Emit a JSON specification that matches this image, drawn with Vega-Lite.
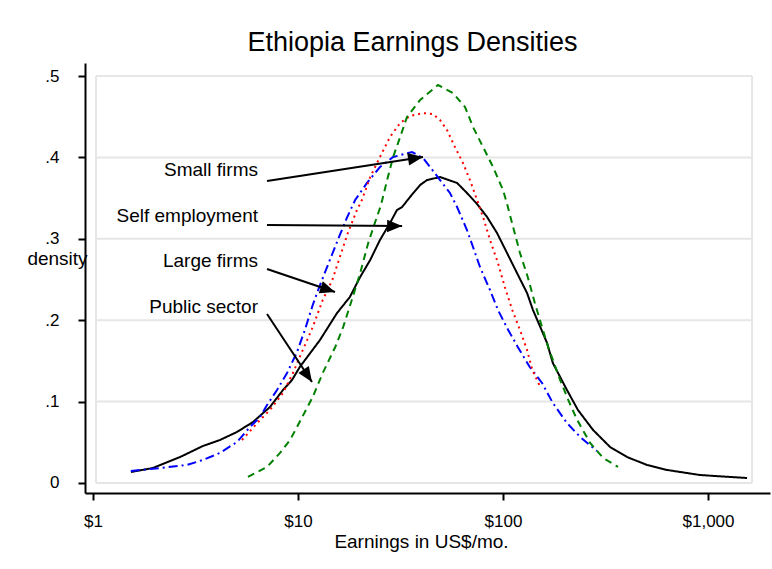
{
  "$schema": "https://vega.github.io/schema/vega-lite/v6.json",
  "autosize": "none",
  "width": 685,
  "height": 430,
  "padding": {"left": 85, "top": 63, "right": 2, "bottom": 76},
  "background": "white",
  "config": {"view": {"stroke": null}},
  "title": {"text": "Ethiopia Earnings Densities", "font": "Liberation Sans", "fontSize": 27, "fontWeight": "normal", "color": "black", "anchor": "middle", "baseline": "alphabetic", "offset": 11, "dx": -15, "dy": 26},
  "datasets": {
    "ticks": [{"t": 0}, {"t": 0.1}, {"t": 0.2}, {"t": 0.3}, {"t": 0.4}, {"t": 0.5}],
    "arrows": [
      {"name": "Small firms", "text_x": 6.38, "text_y": 0.3771, "from_x": 7.06, "from_y": 0.371, "to_x": 40.7, "to_y": 0.4005},
      {"name": "Self employment", "text_x": 6.38, "text_y": 0.3206, "from_x": 7.06, "from_y": 0.317, "to_x": 32.2, "to_y": 0.3157},
      {"name": "Large firms", "text_x": 6.38, "text_y": 0.2654, "from_x": 7.06, "from_y": 0.2629, "to_x": 15.15, "to_y": 0.2346},
      {"name": "Public sector", "text_x": 6.38, "text_y": 0.2088, "from_x": 7.06, "from_y": 0.2076, "to_x": 11.7, "to_y": 0.1241}
    ],
    "curves": [
      {"series": "Self employment", "earnings": 1.53, "density": 0.0135},
      {"series": "Self employment", "earnings": 1.96, "density": 0.0184},
      {"series": "Self employment", "earnings": 2.66, "density": 0.0319},
      {"series": "Self employment", "earnings": 3.44, "density": 0.0455},
      {"series": "Self employment", "earnings": 4.16, "density": 0.0528},
      {"series": "Self employment", "earnings": 5.04, "density": 0.0627},
      {"series": "Self employment", "earnings": 6.03, "density": 0.0749},
      {"series": "Self employment", "earnings": 7.3, "density": 0.0934},
      {"series": "Self employment", "earnings": 8.45, "density": 0.1143},
      {"series": "Self employment", "earnings": 9.35, "density": 0.1265},
      {"series": "Self employment", "earnings": 10.2, "density": 0.1425},
      {"series": "Self employment", "earnings": 12.8, "density": 0.1757},
      {"series": "Self employment", "earnings": 15.5, "density": 0.2088},
      {"series": "Self employment", "earnings": 17.9, "density": 0.2285},
      {"series": "Self employment", "earnings": 20.1, "density": 0.2531},
      {"series": "Self employment", "earnings": 22.5, "density": 0.274},
      {"series": "Self employment", "earnings": 25.1, "density": 0.2985},
      {"series": "Self employment", "earnings": 28.1, "density": 0.3194},
      {"series": "Self employment", "earnings": 30.4, "density": 0.3354},
      {"series": "Self employment", "earnings": 32.2, "density": 0.3391},
      {"series": "Self employment", "earnings": 35.2, "density": 0.3514},
      {"series": "Self employment", "earnings": 39.4, "density": 0.3661},
      {"series": "Self employment", "earnings": 42.6, "density": 0.3722},
      {"series": "Self employment", "earnings": 49.3, "density": 0.3759},
      {"series": "Self employment", "earnings": 59.7, "density": 0.3686},
      {"series": "Self employment", "earnings": 66.7, "density": 0.3563},
      {"series": "Self employment", "earnings": 74.7, "density": 0.3428},
      {"series": "Self employment", "earnings": 83.6, "density": 0.3268},
      {"series": "Self employment", "earnings": 93.5, "density": 0.3071},
      {"series": "Self employment", "earnings": 104.6, "density": 0.2826},
      {"series": "Self employment", "earnings": 117, "density": 0.258},
      {"series": "Self employment", "earnings": 131, "density": 0.2334},
      {"series": "Self employment", "earnings": 140, "density": 0.2125},
      {"series": "Self employment", "earnings": 152, "density": 0.1916},
      {"series": "Self employment", "earnings": 164, "density": 0.172},
      {"series": "Self employment", "earnings": 175, "density": 0.1474},
      {"series": "Self employment", "earnings": 205, "density": 0.1143},
      {"series": "Self employment", "earnings": 232, "density": 0.0897},
      {"series": "Self employment", "earnings": 275, "density": 0.0651},
      {"series": "Self employment", "earnings": 333, "density": 0.0442},
      {"series": "Self employment", "earnings": 403, "density": 0.0319},
      {"series": "Self employment", "earnings": 504, "density": 0.0221},
      {"series": "Self employment", "earnings": 631, "density": 0.016},
      {"series": "Self employment", "earnings": 914, "density": 0.0098},
      {"series": "Self employment", "earnings": 1280, "density": 0.0074},
      {"series": "Self employment", "earnings": 1550, "density": 0.0061},
      {"series": "Small firms", "earnings": 1.53, "density": 0.0147},
      {"series": "Small firms", "earnings": 2.12, "density": 0.0184},
      {"series": "Small firms", "earnings": 2.87, "density": 0.0221},
      {"series": "Small firms", "earnings": 3.44, "density": 0.0283},
      {"series": "Small firms", "earnings": 4.16, "density": 0.0369},
      {"series": "Small firms", "earnings": 5.04, "density": 0.0504},
      {"series": "Small firms", "earnings": 5.83, "density": 0.0688},
      {"series": "Small firms", "earnings": 6.53, "density": 0.0811},
      {"series": "Small firms", "earnings": 7.06, "density": 0.0958},
      {"series": "Small firms", "earnings": 7.9, "density": 0.1143},
      {"series": "Small firms", "earnings": 8.84, "density": 0.1351},
      {"series": "Small firms", "earnings": 9.89, "density": 0.1609},
      {"series": "Small firms", "earnings": 10.8, "density": 0.188},
      {"series": "Small firms", "earnings": 11.8, "density": 0.2187},
      {"series": "Small firms", "earnings": 12.8, "density": 0.2432},
      {"series": "Small firms", "earnings": 14.3, "density": 0.274},
      {"series": "Small firms", "earnings": 16.0, "density": 0.3047},
      {"series": "Small firms", "earnings": 17.3, "density": 0.3256},
      {"series": "Small firms", "earnings": 19.0, "density": 0.3477},
      {"series": "Small firms", "earnings": 21.7, "density": 0.3686},
      {"series": "Small firms", "earnings": 25.1, "density": 0.3882},
      {"series": "Small firms", "earnings": 29.1, "density": 0.4005},
      {"series": "Small firms", "earnings": 36.0, "density": 0.4066},
      {"series": "Small firms", "earnings": 40.7, "density": 0.3993},
      {"series": "Small firms", "earnings": 44.1, "density": 0.3882},
      {"series": "Small firms", "earnings": 49.3, "density": 0.3722},
      {"series": "Small firms", "earnings": 55.1, "density": 0.3563},
      {"series": "Small firms", "earnings": 59.7, "density": 0.3391},
      {"series": "Small firms", "earnings": 66.7, "density": 0.3108},
      {"series": "Small firms", "earnings": 71.4, "density": 0.2899},
      {"series": "Small firms", "earnings": 77.2, "density": 0.2654},
      {"series": "Small firms", "earnings": 86.4, "density": 0.2371},
      {"series": "Small firms", "earnings": 94.5, "density": 0.2125},
      {"series": "Small firms", "earnings": 106, "density": 0.188},
      {"series": "Small firms", "earnings": 118, "density": 0.1671},
      {"series": "Small firms", "earnings": 135, "density": 0.1425},
      {"series": "Small firms", "earnings": 155, "density": 0.1229},
      {"series": "Small firms", "earnings": 175, "density": 0.0983},
      {"series": "Small firms", "earnings": 205, "density": 0.0737},
      {"series": "Small firms", "earnings": 238, "density": 0.0565},
      {"series": "Small firms", "earnings": 287, "density": 0.0393},
      {"series": "Large firms", "earnings": 5.33, "density": 0.0528},
      {"series": "Large firms", "earnings": 6.53, "density": 0.0774},
      {"series": "Large firms", "earnings": 7.3, "density": 0.0897},
      {"series": "Large firms", "earnings": 8.45, "density": 0.1106},
      {"series": "Large firms", "earnings": 9.45, "density": 0.1351},
      {"series": "Large firms", "earnings": 10.2, "density": 0.1548},
      {"series": "Large firms", "earnings": 11.8, "density": 0.1916},
      {"series": "Large firms", "earnings": 13.2, "density": 0.2248},
      {"series": "Large firms", "earnings": 14.7, "density": 0.2494},
      {"series": "Large firms", "earnings": 16.0, "density": 0.2776},
      {"series": "Large firms", "earnings": 17.5, "density": 0.3071},
      {"series": "Large firms", "earnings": 19.4, "density": 0.3354},
      {"series": "Large firms", "earnings": 20.5, "density": 0.3477},
      {"series": "Large firms", "earnings": 22.5, "density": 0.3759},
      {"series": "Large firms", "earnings": 25.1, "density": 0.4005},
      {"series": "Large firms", "earnings": 28.1, "density": 0.4251},
      {"series": "Large firms", "earnings": 31.5, "density": 0.4423},
      {"series": "Large firms", "earnings": 35.2, "density": 0.4509},
      {"series": "Large firms", "earnings": 40.7, "density": 0.4545},
      {"series": "Large firms", "earnings": 45.6, "density": 0.4533},
      {"series": "Large firms", "earnings": 49.3, "density": 0.4459},
      {"series": "Large firms", "earnings": 53.3, "density": 0.4337},
      {"series": "Large firms", "earnings": 58.3, "density": 0.4128},
      {"series": "Large firms", "earnings": 63.8, "density": 0.3931},
      {"series": "Large firms", "earnings": 69.0, "density": 0.3722},
      {"series": "Large firms", "earnings": 74.7, "density": 0.3477},
      {"series": "Large firms", "earnings": 79.9, "density": 0.3268},
      {"series": "Large firms", "earnings": 86.4, "density": 0.2985},
      {"series": "Large firms", "earnings": 94.5, "density": 0.2703},
      {"series": "Large firms", "earnings": 102, "density": 0.2408},
      {"series": "Large firms", "earnings": 111, "density": 0.2125},
      {"series": "Large firms", "earnings": 121, "density": 0.188},
      {"series": "Large firms", "earnings": 131, "density": 0.1634},
      {"series": "Large firms", "earnings": 139, "density": 0.1388},
      {"series": "Large firms", "earnings": 152, "density": 0.1179},
      {"series": "Public sector", "earnings": 5.7, "density": 0.0074},
      {"series": "Public sector", "earnings": 7.06, "density": 0.0197},
      {"series": "Public sector", "earnings": 8.17, "density": 0.0369},
      {"series": "Public sector", "earnings": 9.14, "density": 0.0528},
      {"series": "Public sector", "earnings": 9.89, "density": 0.0688},
      {"series": "Public sector", "earnings": 11.8, "density": 0.1057},
      {"series": "Public sector", "earnings": 13.2, "density": 0.1351},
      {"series": "Public sector", "earnings": 15.2, "density": 0.1671},
      {"series": "Public sector", "earnings": 16.6, "density": 0.1916},
      {"series": "Public sector", "earnings": 18.3, "density": 0.2248},
      {"series": "Public sector", "earnings": 20.1, "density": 0.258},
      {"series": "Public sector", "earnings": 22.0, "density": 0.2948},
      {"series": "Public sector", "earnings": 23.7, "density": 0.3194},
      {"series": "Public sector", "earnings": 25.4, "density": 0.3415},
      {"series": "Public sector", "earnings": 27.2, "density": 0.3722},
      {"series": "Public sector", "earnings": 29.1, "density": 0.4005},
      {"series": "Public sector", "earnings": 31.5, "density": 0.4251},
      {"series": "Public sector", "earnings": 34.0, "density": 0.4496},
      {"series": "Public sector", "earnings": 39.4, "density": 0.4705},
      {"series": "Public sector", "earnings": 48.2, "density": 0.4889},
      {"series": "Public sector", "earnings": 57.0, "density": 0.4791},
      {"series": "Public sector", "earnings": 65.3, "density": 0.4619},
      {"series": "Public sector", "earnings": 71.4, "density": 0.4373},
      {"series": "Public sector", "earnings": 79.9, "density": 0.4128},
      {"series": "Public sector", "earnings": 89.4, "density": 0.3882},
      {"series": "Public sector", "earnings": 100, "density": 0.36},
      {"series": "Public sector", "earnings": 105, "density": 0.3415},
      {"series": "Public sector", "earnings": 112, "density": 0.3145},
      {"series": "Public sector", "earnings": 121, "density": 0.2826},
      {"series": "Public sector", "earnings": 132, "density": 0.2531},
      {"series": "Public sector", "earnings": 143, "density": 0.2211},
      {"series": "Public sector", "earnings": 155, "density": 0.1916},
      {"series": "Public sector", "earnings": 166, "density": 0.1671},
      {"series": "Public sector", "earnings": 173, "density": 0.1548},
      {"series": "Public sector", "earnings": 190, "density": 0.1265},
      {"series": "Public sector", "earnings": 208, "density": 0.102},
      {"series": "Public sector", "earnings": 230, "density": 0.0774},
      {"series": "Public sector", "earnings": 266, "density": 0.0491},
      {"series": "Public sector", "earnings": 308, "density": 0.0307},
      {"series": "Public sector", "earnings": 364, "density": 0.0197}
    ]
  },
  "layer": [
    {
      "data": {"name": "curves"},
      "mark": {"type": "line", "strokeWidth": 2, "opacity": 0, "clip": false},
      "encoding": {
        "x": {"field": "earnings", "type": "quantitative",
          "scale": {"type": "log", "domain": [0.914, 2006], "nice": false},
          "axis": {"values": [1, 10, 100, 1000], "labelExpr": "'$' + format(datum.value, ',')",
            "title": "Earnings in US$/mo.", "titleX": 336, "titleY": 54, "titleAlign": "center", "titleBaseline": "alphabetic",
            "titleFont": "Liberation Sans", "titleFontSize": 19, "titleFontWeight": "normal", "titleColor": "black",
            "labelBaseline": "alphabetic", "labelPadding": 26, "labelFont": "Liberation Sans", "labelFontSize": 17, "labelColor": "black",
            "labelFlush": false, "labelOverlap": false, "grid": false,
            "domainColor": "black", "domainWidth": 2, "tickColor": "black", "tickWidth": 2, "tickSize": 7}},
        "y": {"field": "density", "type": "quantitative",
          "scale": {"domain": [-0.0123, 0.516], "nice": false, "zero": false},
          "axis": {"values": [0, 0.1, 0.2, 0.3, 0.4, 0.5],
            "labelExpr": "datum.value == 0 ? '0' : replace(format(datum.value, '.1f'), '0.', '.')",
            "title": "density", "titleAngle": 0, "titleX": -28, "titleY": 201, "titleAlign": "center", "titleBaseline": "alphabetic",
            "titleFont": "Liberation Sans", "titleFontSize": 19, "titleFontWeight": "normal", "titleColor": "black",
            "labelBaseline": "middle", "labelPadding": 19, "labelFont": "Liberation Sans", "labelFontSize": 17, "labelColor": "black",
            "labelFlush": false, "labelOverlap": false, "grid": false,
            "domainColor": "black", "domainWidth": 2, "tickColor": "black", "tickWidth": 2, "tickSize": 7}},
        "color": {"field": "series", "type": "nominal",
          "scale": {"domain": ["Self employment", "Small firms", "Large firms", "Public sector"], "range": ["#000000", "#0000ff", "#ff0000", "#008000"]},
          "legend": null},
        "strokeDash": {"field": "series", "type": "nominal",
          "scale": {"domain": ["Self employment", "Small firms", "Large firms", "Public sector"], "range": [[1, 0], [9, 4, 2, 4], [2, 4], [7, 5]]},
          "legend": null}
      }
    },
    {
      "data": {"name": "ticks"},
      "mark": {"type": "rule", "color": "#e6e6e6", "strokeWidth": 2},
      "encoding": {
        "y": {"field": "t", "type": "quantitative"},
        "x": {"datum": 1.034},
        "x2": {"datum": 1640}
      }
    },
    {
      "data": {"values": [{}]},
      "mark": {"type": "rule", "color": "#e6e6e6", "strokeWidth": 2},
      "encoding": {"x": {"datum": 1.034}, "y": {"datum": 0}, "y2": {"datum": 0.5}}
    },
    {
      "data": {"values": [{}]},
      "mark": {"type": "rule", "color": "#e6e6e6", "strokeWidth": 2},
      "encoding": {"x": {"datum": 1640}, "y": {"datum": 0}, "y2": {"datum": 0.5}}
    },
    {
      "data": {"name": "curves"},
      "mark": {"type": "line", "strokeWidth": 2, "clip": false},
      "encoding": {
        "x": {"field": "earnings", "type": "quantitative"},
        "y": {"field": "density", "type": "quantitative"},
        "color": {"field": "series", "type": "nominal", "legend": null},
        "strokeDash": {"field": "series", "type": "nominal", "legend": null}
      }
    },
    {
      "data": {"name": "arrows"},
      "mark": {"type": "rule", "color": "black", "strokeWidth": 2},
      "encoding": {
        "x": {"field": "from_x", "type": "quantitative"},
        "y": {"field": "from_y", "type": "quantitative"},
        "x2": {"field": "to_x"},
        "y2": {"field": "to_y"}
      }
    },
    {
      "data": {"name": "arrows"},
      "transform": [{"filter": "datum.name == 'Small firms'"}],
      "mark": {"type": "point", "shape": "M0,0L-1,-0.42L-1,0.42Z", "size": 900, "filled": true, "color": "black", "opacity": 1, "strokeWidth": 0, "angle": -8.7},
      "encoding": {"x": {"field": "to_x", "type": "quantitative"}, "y": {"field": "to_y", "type": "quantitative"}}
    },
    {
      "data": {"name": "arrows"},
      "transform": [{"filter": "datum.name == 'Self employment'"}],
      "mark": {"type": "point", "shape": "M0,0L-1,-0.42L-1,0.42Z", "size": 900, "filled": true, "color": "black", "opacity": 1, "strokeWidth": 0, "angle": 0.4},
      "encoding": {"x": {"field": "to_x", "type": "quantitative"}, "y": {"field": "to_y", "type": "quantitative"}}
    },
    {
      "data": {"name": "arrows"},
      "transform": [{"filter": "datum.name == 'Large firms'"}],
      "mark": {"type": "point", "shape": "M0,0L-1,-0.42L-1,0.42Z", "size": 900, "filled": true, "color": "black", "opacity": 1, "strokeWidth": 0, "angle": 18.7},
      "encoding": {"x": {"field": "to_x", "type": "quantitative"}, "y": {"field": "to_y", "type": "quantitative"}}
    },
    {
      "data": {"name": "arrows"},
      "transform": [{"filter": "datum.name == 'Public sector'"}],
      "mark": {"type": "point", "shape": "M0,0L-1,-0.42L-1,0.42Z", "size": 900, "filled": true, "color": "black", "opacity": 1, "strokeWidth": 0, "angle": 56},
      "encoding": {"x": {"field": "to_x", "type": "quantitative"}, "y": {"field": "to_y", "type": "quantitative"}}
    },
    {
      "data": {"name": "arrows"},
      "mark": {"type": "text", "align": "right", "baseline": "alphabetic", "font": "Liberation Sans", "fontSize": 19, "color": "black"},
      "encoding": {
        "x": {"field": "text_x", "type": "quantitative"},
        "y": {"field": "text_y", "type": "quantitative"},
        "text": {"field": "name"}
      }
    }
  ]
}
